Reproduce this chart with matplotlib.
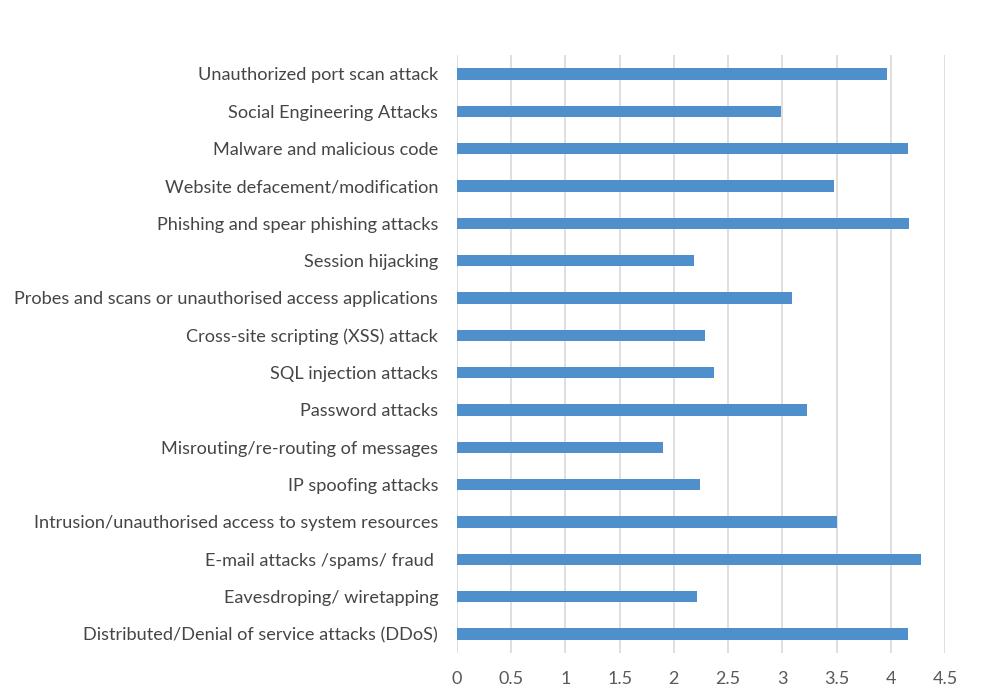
import matplotlib
matplotlib.use('Agg')

import matplotlib.pyplot as plt

# categories listed top to bottom as in the chart
attacks = [
    "Unauthorized port scan attack",
    "Social Engineering Attacks",
    "Malware and malicious code",
    "Website defacement/modification",
    "Phishing and spear phishing attacks",
    "Session hijacking",
    "Probes and scans or unauthorised access applications",
    "Cross-site scripting (XSS) attack",
    "SQL injection attacks",
    "Password attacks",
    "Misrouting/re-routing of messages",
    "IP spoofing attacks",
    "Intrusion/unauthorised access to system resources",
    "E-mail attacks /spams/ fraud ",
    "Eavesdroping/ wiretapping",
    "Distributed/Denial of service attacks (DDoS)",
]
scores = [3.97, 2.99, 4.16, 3.48, 4.17, 2.19, 3.09, 2.29,
          2.37, 3.23, 1.90, 2.24, 3.50, 4.28, 2.21, 4.16]
xticks = [0, 0.5, 1, 1.5, 2, 2.5, 3, 3.5, 4, 4.5]
xtick_labels = ["0", "0.5", "1", "1.5", "2", "2.5", "3", "3.5", "4", "4.5"]

plt.rcParams['font.family'] = ['Lato', 'DejaVu Sans']

fig = plt.figure(figsize=(10.01, 6.96), dpi=100)
ax = fig.add_axes([0.4565, 0.0624, 0.944 - 0.4565, 0.9205 - 0.0624])

ypos = list(range(len(attacks)))
ax.barh(ypos, scores, height=0.3, color="#4E8FCC", zorder=3)

ax.set_ylim(len(attacks) - 0.5, -0.5)
ax.set_xlim(0, 4.5)
ax.set_yticks(ypos)
ax.set_yticklabels(attacks, fontsize=13.1, color="#454545")
ax.set_xticks(xticks)
ax.set_xticklabels(xtick_labels, fontsize=13, color="#595959")
ax.tick_params(axis='y', length=0, pad=13.5)
ax.tick_params(axis='x', length=0, pad=13)

ax.grid(axis='x', color="#D9D9D9", linewidth=1.2, zorder=0)
for s in ax.spines.values():
    s.set_visible(False)

fig.savefig("out.png", dpi=100)
